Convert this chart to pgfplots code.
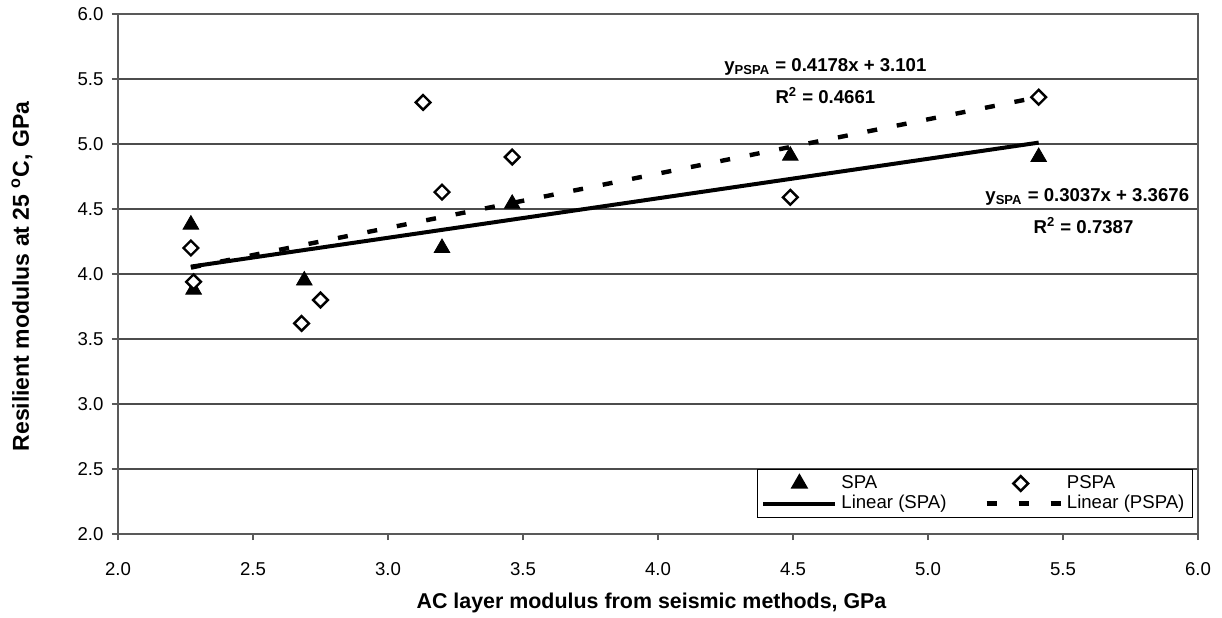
\documentclass[border=0pt]{standalone}
\usepackage{pgfplots}
\pgfplotsset{compat=1.18}
\usepackage{fontspec}
\setmainfont{Liberation Sans}
\pgfplotsset{
  marklegend/.style={legend image code/.code={\path[draw=none,fill=none] (0pt,0pt) -- (36pt,0pt); \path[##1] plot coordinates {(18pt,0pt)};}},
  linelegend/.style={legend image code/.code={\draw[##1] (0pt,0pt) -- (36pt,0pt);}},
  dashlegend/.style={legend image code/.code={\draw[##1, dash pattern=on 5pt off 11pt, dash phase=-1pt] (0pt,0pt) -- (38pt,0pt);}},
}
\begin{document}
\fontsize{9.3}{11}\selectfont
\begin{tikzpicture}
\useasboundingbox (-59pt,-41.5pt) rectangle (552pt,267pt);
\begin{axis}[
  at={(0,0)}, anchor=south west,
  scale only axis, width=540pt, height=260pt,
  xmin=2, xmax=6, ymin=2, ymax=6,
  xtick={2,2.5,3,3.5,4,4.5,5,5.5,6},
  ytick={2,2.5,3,3.5,4,4.5,5,5.5,6},
  xticklabel style={yshift=-8pt, /pgf/number format/fixed, /pgf/number format/fixed zerofill, /pgf/number format/precision=1, /pgf/number format/assume math mode=true},
  yticklabel style={xshift=-1pt, /pgf/number format/fixed, /pgf/number format/fixed zerofill, /pgf/number format/precision=1, /pgf/number format/assume math mode=true},
  tick label style={font=\fontsize{9.3}{11}\selectfont},
  tick pos=left, tick align=outside, major tick length=3pt,
  tick style={black!65, line width=0.6pt},
  axis line style={black!65, line width=0.7pt},
  ymajorgrids, grid style={black!70, line width=0.6pt},
  xlabel={AC layer modulus from seismic methods, GPa},
  ylabel={Resilient modulus at 25 \textsuperscript{o}C, GPa},
  xlabel style={font=\bfseries\fontsize{10.7}{13}\selectfont, at={(axis description cs:0.494,-0.1442)}, anchor=base},
  ylabel style={font=\bfseries\fontsize{11.5}{13}\selectfont, at={(axis description cs:-0.0889,0.495)}, anchor=center, rotate=0},
  legend columns=2,
  legend cell align=left,
  legend style={at={(rel axis cs:0.9954,0.125)}, anchor=north east, draw=black, line width=0.6pt,
    font=\fontsize{9.3}{11}\selectfont, inner xsep=2pt, inner ysep=1pt, row sep=-2pt,
    /tikz/every even column/.append style={column sep=16pt}},
]
\addplot[only marks, mark=triangle*, mark size=4.5pt, black, marklegend]
  coordinates {(2.27,4.38) (2.28,3.88) (2.69,3.95) (3.20,4.20) (3.46,4.54) (4.49,4.91) (5.41,4.90)};
\addlegendentry{SPA}
\addplot[only marks, mark=square*, mark size=2.6pt, black, line width=1.2pt,
  mark options={fill=white, rotate=45}, marklegend]
  coordinates {(2.27,4.20) (2.28,3.94) (2.68,3.62) (2.75,3.80) (3.13,5.32) (3.20,4.63) (3.46,4.90) (4.49,4.59) (5.41,5.36)};
\addlegendentry{PSPA}
\addplot[black, line width=2pt, no marks, linelegend]
  coordinates {(2.27,4.0570) (5.41,5.0106)};
\addlegendentry{Linear (SPA)}
\addplot[black, line width=2.2pt, no marks, dash pattern=on 5pt off 10pt, dashlegend]
  coordinates {(2.27,4.0494) (5.41,5.3613)};
\addlegendentry{Linear (PSPA)}
\node[anchor=base, font=\bfseries\fontsize{9.3}{11}\selectfont] at (axis cs:4.62,5.556) {y\textsubscript{PSPA} = 0.4178x + 3.101};
\node[anchor=base, font=\bfseries\fontsize{9.3}{11}\selectfont] at (axis cs:4.62,5.308) {R\textsuperscript{2} = 0.4661};
\node[anchor=base, font=\bfseries\fontsize{9.3}{11}\selectfont] at (axis cs:5.59,4.556) {y\textsubscript{SPA} = 0.3037x + 3.3676};
\node[anchor=base, font=\bfseries\fontsize{9.3}{11}\selectfont] at (axis cs:5.576,4.308) {R\textsuperscript{2} = 0.7387};
\end{axis}
\end{tikzpicture}
\end{document}
